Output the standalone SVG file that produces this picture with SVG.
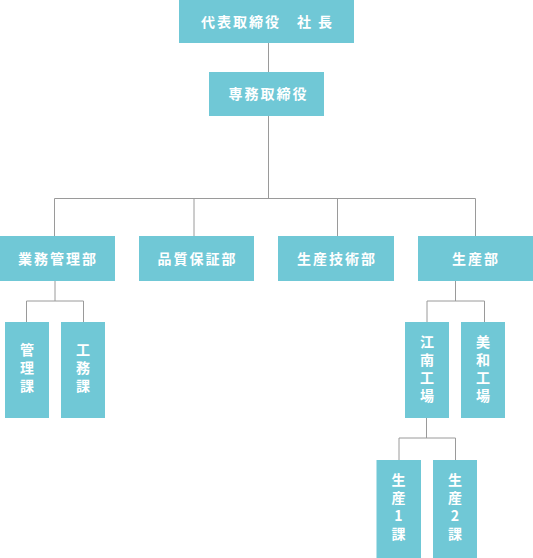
<svg xmlns="http://www.w3.org/2000/svg" width="533" height="558" viewBox="0 0 533 558">
<style>
.box{fill:#70c8d6}
.t{fill:#ffffff;font-family:"Noto Sans CJK JP","Noto Sans",sans-serif;font-size:14px;font-weight:700;text-anchor:middle;letter-spacing:2px}
.v{fill:#ffffff;font-family:"Noto Sans CJK JP","Noto Sans",sans-serif;font-size:14px;font-weight:700;text-anchor:middle;writing-mode:vertical-rl;text-orientation:upright;letter-spacing:4px}
.ln{fill:none;stroke:#9a9a9a;stroke-width:1}
</style>
<rect width="533" height="558" fill="#ffffff"/>
<g id="connectors">
<path class="ln" d="M268.5 43V72M268.5 116V198.5M54.5 198.5H475.5M54.5 198.5V236M194 198.5V236M337.5 198.5V236M475.5 198.5V236"/>
<path class="ln" d="M55 281V301M26.5 301H83.5M26.5 301V322M83.5 301V322"/>
<path class="ln" d="M455.5 281V301M427 301H484.5M427 301V322M484.5 301V322"/>
<path class="ln" d="M426.5 418V438M399 438H455.5M399 438V460M455.5 438V460"/>
</g>
<g id="president"><rect class="box" x="179" y="0" width="175" height="43"/><text class="t" x="267.5" y="27">代表取締役　社 長</text></g>
<g id="senmu"><rect class="box" x="209" y="72" width="115" height="44"/><text class="t" x="268.5" y="99">専務取締役</text></g>
<g id="gyomu"><rect class="box" x="0" y="236" width="115" height="45"/><text class="t" x="58" y="264">業務管理部</text></g>
<g id="hinshitsu"><rect class="box" x="139" y="236" width="115" height="45"/><text class="t" x="197.5" y="264">品質保証部</text></g>
<g id="gijutsu"><rect class="box" x="278" y="236" width="116" height="45"/><text class="t" x="337" y="264">生産技術部</text></g>
<g id="seisan"><rect class="box" x="418" y="236" width="115" height="45"/><text class="t" x="476" y="264">生産部</text></g>
<g id="kanri"><rect class="box" x="5" y="322" width="44" height="96"/><text class="v" x="27" y="370">管理課</text></g>
<g id="koumu"><rect class="box" x="61" y="322" width="44" height="96"/><text class="v" x="83" y="370">工務課</text></g>
<g id="kounan"><rect class="box" x="405" y="322" width="44" height="96"/><text class="v" x="427" y="371">江南工場</text></g>
<g id="biwa"><rect class="box" x="461" y="322" width="44" height="96"/><text class="v" x="483" y="371">美和工場</text></g>
<g id="seisan1"><rect class="box" x="376.5" y="460" width="44.5" height="98"/><text class="v" x="398.5" y="509">生産1課</text></g>
<g id="seisan2"><rect class="box" x="433" y="460" width="44" height="98"/><text class="v" x="455" y="509">生産2課</text></g>
</svg>
